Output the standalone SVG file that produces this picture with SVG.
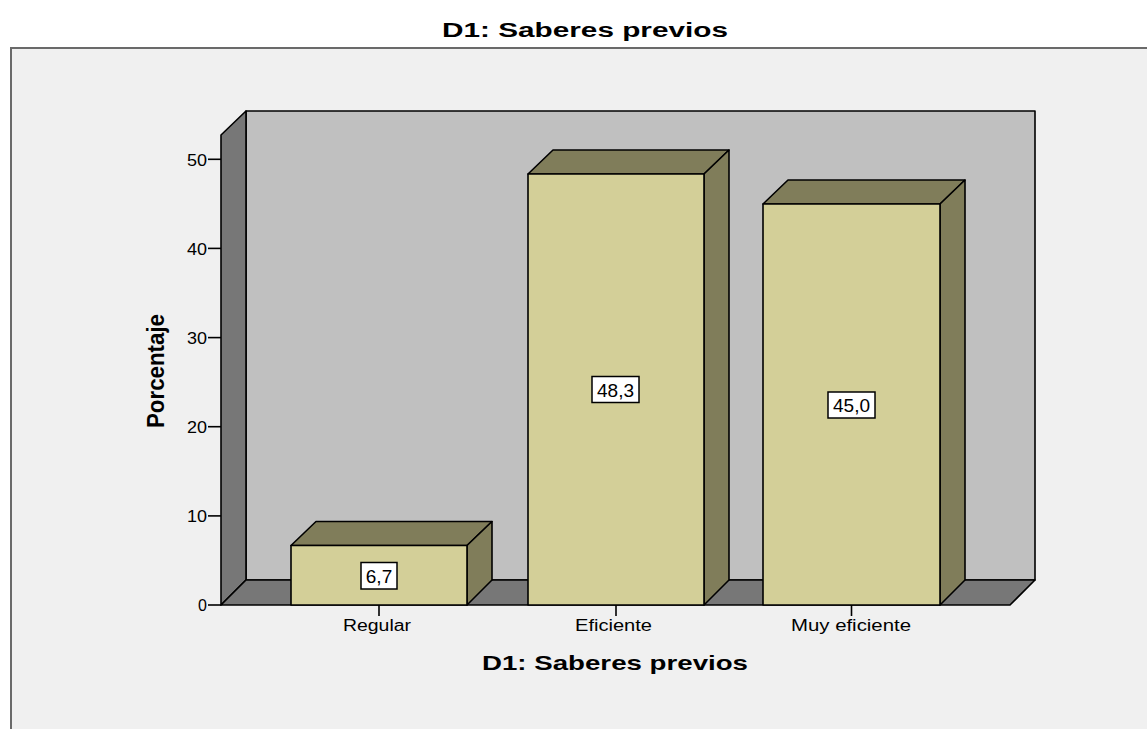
<svg xmlns="http://www.w3.org/2000/svg" width="1147" height="729" viewBox="0 0 1147 729">
<style>
.ln{stroke:#000;stroke-width:1.6;stroke-linejoin:round}
.wall{fill:#c0c0c0}
.dark{fill:#777777}
.front{fill:#d3cf98}
.shade{fill:#807d5a}
.t{font-family:"Liberation Sans",Arial,sans-serif;fill:#000}
.b{font-weight:bold}
.tick{font-size:16px;text-anchor:end}
.cat{font-size:16px;text-anchor:middle}
.val{font-size:19px;text-anchor:middle}
.box{fill:#fff;stroke:#000;stroke-width:1.5}
</style>
<rect x="0" y="0" width="1147" height="729" fill="#ffffff"/>
<rect x="11" y="48" width="1140" height="690" fill="#f0f0f0" stroke="#6a6a6a" stroke-width="2"/>
<text class="t b" x="585" y="37" font-size="20" text-anchor="middle" textLength="286" lengthAdjust="spacingAndGlyphs">D1: Saberes previos</text>

<g id="frame3d">
<rect class="wall ln" x="246" y="111" width="789" height="469"/>
<polygon class="dark ln" points="221,135 246,111 246,580 221,605"/>
<polygon class="dark ln" points="221,605 246,580 1035,580 1010,605"/>
</g>

<g id="yaxis">
<g class="ln" fill="none">
<line x1="208" y1="605" x2="221" y2="605"/>
<line x1="208" y1="515.9" x2="221" y2="515.9"/>
<line x1="208" y1="426.7" x2="221" y2="426.7"/>
<line x1="208" y1="337.6" x2="221" y2="337.6"/>
<line x1="208" y1="248.4" x2="221" y2="248.4"/>
<line x1="208" y1="159.3" x2="221" y2="159.3"/>
</g>
<text class="t tick" x="207" y="611">0</text>
<text class="t tick" x="207" y="522" textLength="20" lengthAdjust="spacingAndGlyphs">10</text>
<text class="t tick" x="207" y="433" textLength="20" lengthAdjust="spacingAndGlyphs">20</text>
<text class="t tick" x="207" y="344" textLength="20" lengthAdjust="spacingAndGlyphs">30</text>
<text class="t tick" x="207" y="255" textLength="20" lengthAdjust="spacingAndGlyphs">40</text>
<text class="t tick" x="207" y="166" textLength="20" lengthAdjust="spacingAndGlyphs">50</text>
<text class="t b" transform="translate(164,428) rotate(-90)" font-size="23" textLength="114" lengthAdjust="spacingAndGlyphs">Porcentaje</text>
</g>

<g id="bar-regular">
<polygon class="shade ln" points="291,545.5 316,521.5 492,521.5 467,545.5"/>
<polygon class="shade ln" points="467,545.5 492,521.5 492,580 467,605"/>
<rect class="front ln" x="291" y="545.5" width="176" height="59.5"/>
<rect class="box" x="361" y="562.5" width="36" height="26.5"/>
<text class="t val" x="379" y="582.5">6,7</text>
</g>

<g id="bar-eficiente">
<polygon class="shade ln" points="528,174 553,150 729,150 704,174"/>
<polygon class="shade ln" points="704,174 729,150 729,580 704,605"/>
<rect class="front ln" x="528" y="174" width="176" height="431"/>
<rect class="box" x="592" y="376.5" width="47" height="26"/>
<text class="t val" x="615.5" y="396.5">48,3</text>
</g>

<g id="bar-muy-eficiente">
<polygon class="shade ln" points="763,204 788,180 965,180 940,204"/>
<polygon class="shade ln" points="940,204 965,180 965,580 940,605"/>
<rect class="front ln" x="763" y="204" width="177" height="401"/>
<rect class="box" x="828" y="392" width="47" height="26"/>
<text class="t val" x="851.5" y="412">45,0</text>
</g>

<g id="xaxis">
<g class="ln" fill="none">
<line x1="379" y1="605" x2="379" y2="616"/>
<line x1="616" y1="605" x2="616" y2="616"/>
<line x1="851.5" y1="605" x2="851.5" y2="616"/>
</g>
<text class="t cat" x="377" y="631" textLength="68" lengthAdjust="spacingAndGlyphs">Regular</text>
<text class="t cat" x="613.5" y="631" textLength="77" lengthAdjust="spacingAndGlyphs">Eficiente</text>
<text class="t cat" x="851" y="631" textLength="120" lengthAdjust="spacingAndGlyphs">Muy eficiente</text>
<text class="t b" x="615" y="670" font-size="21" text-anchor="middle" textLength="266" lengthAdjust="spacingAndGlyphs">D1: Saberes previos</text>
</g>
</svg>
